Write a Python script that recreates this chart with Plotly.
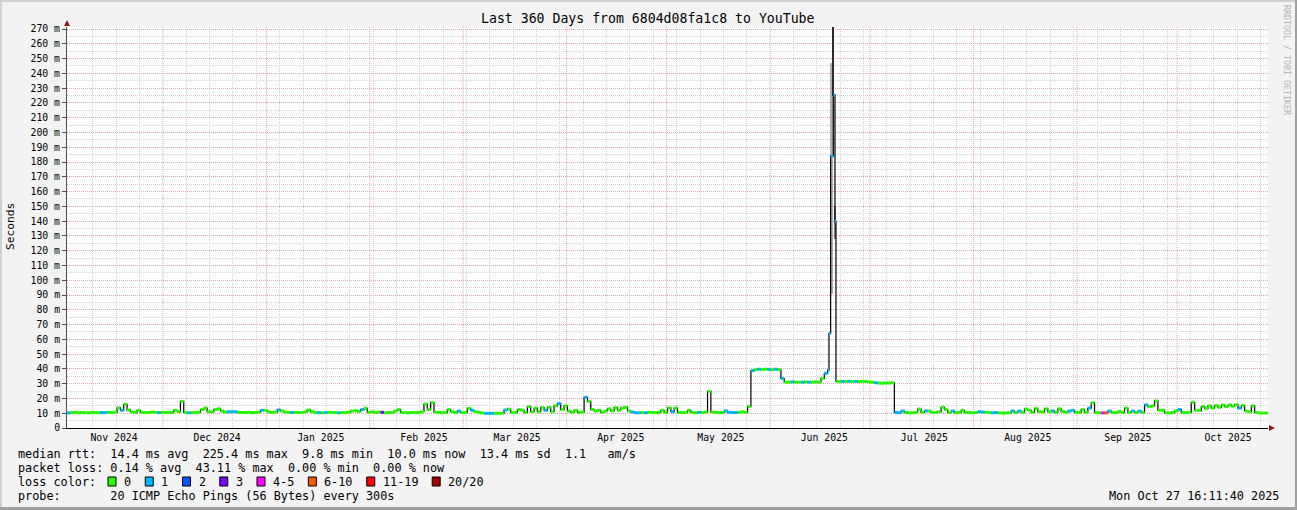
import plotly.graph_objects as go
import pandas as pd

# ---------------- data ----------------
START = pd.Timestamp("2024-11-02 06:00")
N_DAYS = 360

# daily median rtt in ms (None = replaced by the finer spike samples below)
median_ms = [
    10.2, 10.4, 10.6, 10.3, 10.5, 10.4, 10.2, 10.6, 10.4, 10.3,
    10.5, 10.4, 10.6, 10.5, 10.8, 13.6, 12.0, 16.0, 12.2, 11.0,
    10.5, 12.0, 10.6, 10.4, 10.5, 10.8, 10.6, 10.4, 10.6, 10.5,
    10.6, 10.4, 12.0, 11.0, 18.0, 10.5, 10.3, 10.4, 10.5, 10.6,
    12.5, 13.5, 11.0, 10.8, 12.5, 13.0, 11.5, 10.8, 11.0, 11.0,
    11.0, 10.6, 10.5, 10.4, 10.6, 10.3, 10.5, 10.8, 12.0, 12.0,
    11.0, 10.6, 10.8, 12.2, 11.5, 10.8, 10.5, 10.5, 10.6, 10.4,
    10.5, 11.0, 12.2, 11.0, 10.5, 10.4, 10.3, 10.4, 10.6, 10.5,
    10.4, 10.3, 10.5, 10.4, 10.6, 11.5, 11.8, 11.2, 12.5, 13.3,
    10.5, 11.0, 10.4, 10.8, 10.6, 10.3, 10.5, 10.4, 11.5, 12.5,
    10.5, 10.4, 10.3, 10.5, 10.4, 10.5, 11.0, 16.2, 12.5, 17.2,
    10.8, 10.5, 10.4, 10.5, 12.5, 11.0, 10.5, 11.5, 10.5, 10.6,
    13.3, 12.0, 11.0, 10.6, 10.2, 9.9, 9.9, 9.9, 9.9, 9.9,
    10.0, 12.2, 12.8, 10.5, 10.6, 12.5, 12.0, 10.6, 14.5, 11.0,
    13.5, 11.0, 13.8, 12.0, 14.0, 11.0, 15.0, 16.5, 12.5, 15.0,
    11.5, 10.6, 12.0, 10.5, 10.8, 20.8, 18.0, 12.5, 11.5, 12.0,
    10.6, 11.5, 13.0, 11.5, 13.8, 12.0, 13.5, 14.0, 11.5, 10.8,
    10.4, 10.3, 10.4, 10.3, 10.6, 10.5, 10.4, 10.5, 12.0, 10.6,
    13.6, 11.0, 13.5, 10.5, 10.4, 10.6, 12.0, 10.5, 10.3, 10.6,
    10.5, 10.8, 24.8, 10.8, 10.6, 10.4, 10.5, 11.5, 10.6, 10.5,
    10.4, 10.6, 11.0, 10.5, 14.5, 38.8, 39.5, 39.8, 39.6, 39.8,
    39.6, 39.5, 39.8, 39.4, 33.5, 31.0, 31.0, 31.2, 31.0, 31.0,
    31.0, 31.2, 31.0, 31.0, 31.2, 31.0, 33.6, 37.0, 39.2, None,
    None, 31.5, 31.5, 31.5, 31.6, 31.5, 31.5, 31.4, 31.5, 31.5,
    31.2, 31.0, 30.6, 30.4, 30.3, 30.5, 30.4, 30.6, 10.5, 10.4,
    11.5, 10.5, 10.3, 10.4, 10.6, 12.8, 10.5, 11.5, 11.5, 10.5,
    10.6, 11.0, 14.0, 12.5, 10.5, 11.5, 10.4, 10.6, 12.0, 10.5,
    10.4, 10.3, 10.5, 11.0, 10.8, 10.6, 10.5, 10.3, 10.5, 10.2,
    10.1, 10.2, 10.3, 11.5, 10.5, 11.5, 10.6, 12.8, 12.0, 10.6,
    13.2, 11.0, 10.8, 13.0, 11.0, 11.5, 10.6, 13.0, 11.2, 10.6,
    11.5, 12.0, 10.6, 10.5, 12.5, 10.6, 13.5, 17.0, 10.5, 10.3,
    10.2, 10.2, 11.5, 10.5, 10.4, 11.2, 10.5, 13.5, 10.5, 11.5,
    10.5, 11.5, 10.5, 15.6, 14.5, 15.0, 18.3, 12.0, 12.0, 10.3,
    10.3, 10.4, 11.5, 12.5, 10.5, 10.4, 10.6, 17.4, 12.0, 11.8,
    14.5, 13.3, 15.0, 13.5, 15.2, 14.0, 15.5, 14.5, 15.6, 14.8,
    15.8, 13.5, 15.2, 11.5, 11.0, 15.0, 10.5, 10.2, 10.1, 10.1,
]

# loss bucket index per day: 0="0", 1="1", 2="2", 3="3", 4="4-5", 5="6-10", 6="11-19", 7="20/20"
loss_idx = [
    1, 0, 0, 0, 0, 0, 0, 0, 0, 0,
    1, 1, 0, 0, 0, 0, 1, 0, 0, 0,
    0, 0, 0, 0, 0, 0, 0, 1, 0, 0,
    0, 0, 0, 0, 0, 0, 1, 0, 0, 0,
    0, 0, 0, 0, 0, 0, 0, 0, 1, 1,
    1, 0, 0, 0, 0, 0, 0, 0, 1, 0,
    0, 0, 0, 1, 0, 0, 0, 1, 0, 0,
    0, 0, 0, 0, 0, 1, 0, 1, 0, 0,
    0, 1, 0, 0, 0, 0, 0, 0, 1, 0,
    0, 0, 0, 0, 3, 0, 0, 0, 0, 0,
    0, 0, 0, 0, 0, 0, 0, 0, 0, 0,
    0, 0, 0, 0, 0, 0, 0, 1, 0, 0,
    0, 1, 0, 0, 0, 1, 1, 1, 0, 0,
    0, 1, 0, 0, 0, 0, 0, 0, 0, 0,
    0, 0, 0, 1, 0, 0, 0, 1, 0, 0,
    0, 0, 0, 0, 0, 1, 0, 0, 0, 0,
    0, 0, 0, 0, 0, 0, 0, 0, 0, 1,
    1, 1, 0, 1, 0, 0, 0, 0, 0, 0,
    0, 1, 0, 0, 0, 0, 0, 0, 0, 1,
    0, 0, 0, 0, 0, 0, 0, 1, 1, 1,
    1, 0, 0, 0, 0, 1, 0, 1, 0, 0,
    1, 0, 1, 0, 1, 0, 0, 1, 0, 0,
    1, 0, 1, 0, 0, 0, 0, 1, 1, 0,
    0, 0, 1, 0, 1, 0, 1, 0, 0, 0,
    0, 0, 1, 0, 0, 0, 0, 0, 1, 1,
    1, 0, 0, 0, 0, 0, 0, 1, 0, 0,
    0, 0, 0, 0, 0, 1, 0, 0, 0, 0,
    0, 0, 0, 1, 1, 0, 0, 1, 1, 0,
    0, 0, 0, 1, 0, 1, 0, 0, 0, 0,
    0, 0, 0, 0, 0, 1, 0, 0, 0, 0,
    1, 1, 0, 0, 0, 0, 1, 0, 0, 0,
    4, 5, 1, 0, 0, 0, 0, 0, 0, 1,
    0, 1, 0, 1, 0, 0, 0, 0, 0, 0,
    0, 0, 0, 1, 0, 0, 0, 0, 0, 0,
    0, 0, 0, 0, 0, 0, 0, 0, 0, 0,
    0, 1, 0, 0, 0, 0, 0, 0, 0, 0,
]

# finer samples around the early-June spike (day offsets from START)
spike_day = [228.4, 228.9, 229.7, 230.2, 230.5]
spike_ms = [64.0, 184.0, 225.4, 140.0, 31.5]
spike_loss = [1, 1, 1, 1, 0]

# "smoke" (spread of the individual pings), day ranges and ms ranges
smoke_day_from = [197.0, 228.7, 229.6, 230.2]
smoke_day_to = [197.8, 229.6, 230.05, 230.5]
smoke_lo_ms = [10.5, 91.0, 225.0, 128.0]
smoke_hi_ms = [13.0, 247.0, 275.0, 150.0]
smoke_density = [1, 2, 9, 5]

loss_labels = ["0", "1", "2", "3", "4-5", "6-10", "11-19", "20/20"]
y_ticks_ms = list(range(0, 271, 10))
x_label_dates = ["2024-11-16 08:00", "2024-12-17 06:00", "2025-01-17 08:00", "2025-02-17 06:00",
                 "2025-03-17 04:00", "2025-04-17 06:00", "2025-05-17 06:00", "2025-06-17 06:00",
                 "2025-07-17 06:00", "2025-08-17 06:00", "2025-09-16 06:00", "2025-10-16 06:00"]
x_label_text = ["Nov 2024", "Dec 2024", "Jan 2025", "Feb 2025", "Mar 2025", "Apr 2025",
                "May 2025", "Jun 2025", "Jul 2025", "Aug 2025", "Sep 2025", "Oct 2025"]

stats_rtt = "median rtt:  14.4 ms avg  225.4 ms max  9.8 ms min  10.0 ms now  13.4 ms sd  1.1   am/s"
stats_loss = "packet loss: 0.14 % avg  43.11 % max  0.00 % min  0.00 % now"
probe_text = "probe:       20 ICMP Echo Pings (56 Bytes) every 300s"
stamp_text = "Mon Oct 27 16:11:40 2025"
title_text = "Last 360 Days from 6804d08fa1c8 to YouTube"

# ---------------- styles ----------------
LOSS_COLORS = ["#26FF00", "#00B8FF", "#0059FF", "#7E00FF", "#FF00FF", "#FF5500", "#FF0000", "#A10000"]
MONO = "DejaVu Sans Mono"
LEG_SIZE = 11.8
W, H = 1297, 510
L, R, T, B = 67, 1268, 27, 428
PW, PH = R - L, B - T
END = START + pd.Timedelta(days=N_DAYS)
Y_TOP = 270 * (B - T) / (B - 29)


def px(x):
    return (x - L) / PW


def py(y):
    return (B - y) / PH


def t(d):
    return START + pd.Timedelta(days=d)


# merge samples
pts = [(float(d), v, l) for d, (v, l) in enumerate(zip(median_ms, loss_idx)) if v is not None]
pts += list(zip(spike_day, spike_ms, spike_loss))
pts.sort(key=lambda p: p[0])

fig = go.Figure()

# smoke
for d0, d1, lo, hi, dens in zip(smoke_day_from, smoke_day_to, smoke_lo_ms, smoke_hi_ms, smoke_density):
    g = int(215 - dens * 19)
    fig.add_trace(go.Bar(
        x=[t((d0 + d1) / 2)], y=[hi - lo], base=[lo],
        width=[(d1 - d0) * 86400000], marker=dict(color=f"rgb({g},{g},{g})", line=dict(width=0)),
        hoverinfo="skip", showlegend=False))

# black connecting step line
xs = [t(p[0]) for p in pts] + [END]
ys = [p[1] for p in pts] + [pts[-1][1]]
fig.add_trace(go.Scatter(x=xs, y=ys, mode="lines", line=dict(color="#000000", width=1.2, shape="hv"),
                         hoverinfo="skip", showlegend=False))

# colored horizontal segments per loss bucket
for b, col in enumerate(LOSS_COLORS):
    sx, sy = [], []
    for i, (d, v, l) in enumerate(pts):
        if l != b:
            continue
        d_next = pts[i + 1][0] if i + 1 < len(pts) else N_DAYS
        sx += [t(d), t(d_next), None]
        sy += [v, v, None]
    if sx:
        fig.add_trace(go.Scatter(x=sx, y=sy, mode="lines", line=dict(color=col, width=3),
                                 hoverinfo="skip", showlegend=False))

shapes = []
# month-start major vertical grid (red dotted)
for m in pd.date_range("2024-12-01", "2025-10-01", freq="MS"):
    shapes.append(dict(type="line", xref="x", yref="paper", x0=m, x1=m, y0=0, y1=1,
                       line=dict(color="#F2A2A2", width=1, dash="1px,1px"), layer="below"))

# frame of the image
shapes += [
    dict(type="rect", xref="paper", yref="paper", x0=px(0), x1=px(2), y0=py(H), y1=py(0),
         fillcolor="#D0D0D0", line=dict(width=0)),
    dict(type="rect", xref="paper", yref="paper", x0=px(0), x1=px(W), y0=py(2), y1=py(0),
         fillcolor="#D0D0D0", line=dict(width=0)),
    dict(type="rect", xref="paper", yref="paper", x0=px(W - 2), x1=px(W), y0=py(H), y1=py(0),
         fillcolor="#A0A0A0", line=dict(width=0)),
    dict(type="rect", xref="paper", yref="paper", x0=px(0), x1=px(W), y0=py(H), y1=py(H - 3),
         fillcolor="#A0A0A0", line=dict(width=0)),
]
# axis arrows
shapes.append(dict(type="path", xref="paper", yref="paper",
                   path=f"M {px(64)} {py(26)} L {px(70)} {py(26)} L {px(67)} {py(20)} Z",
                   fillcolor="#8B1A1A", line=dict(width=0)))
shapes.append(dict(type="path", xref="paper", yref="paper",
                   path=f"M {px(1269)} {py(425)} L {px(1269)} {py(431)} L {px(1275)} {py(428)} Z",
                   fillcolor="#8B1A1A", line=dict(width=0)))

annotations = []


def text(x, y, s, size, anchor="left", color="#000000", angle=0):
    annotations.append(dict(xref="paper", yref="paper", x=px(x), y=py(y), text=s.replace(" ", "\u00a0"),
                            showarrow=False, xanchor=anchor, yanchor="middle", textangle=angle,
                            font=dict(family=MONO, size=size, color=color)))


text(648, 19, title_text, 13.2, anchor="center")
text(10, 227, "Seconds", 11.2, anchor="center", angle=-90)
text(1287, 60, "RRDTOOL / TOBI OETIKER", 8.3, anchor="center", color="#B4B4B4", angle=90)
text(16, 454, stats_rtt, LEG_SIZE)
text(16, 468, stats_loss, LEG_SIZE)
text(16, 482, "loss color:", LEG_SIZE)
text(16, 496, probe_text, LEG_SIZE)
text(1281, 496, stamp_text, LEG_SIZE, anchor="right")

# loss color legend swatches
sq_x = 108.0
for lab, col in zip(loss_labels, LOSS_COLORS):
    shapes.append(dict(type="rect", xref="paper", yref="paper", x0=px(sq_x), x1=px(sq_x + 8),
                       y0=py(486), y1=py(477), fillcolor=col, line=dict(color="#000000", width=1)))
    text(sq_x + 14, 482, lab, LEG_SIZE)
    sq_x += 30.2 + 7.05 * len(lab)

fig.update_layout(
    width=W, height=H,
    margin=dict(l=L, r=W - R, t=T, b=H - B, pad=0),
    paper_bgcolor="#F3F3F3", plot_bgcolor="#FFFFFF",
    barmode="overlay", bargap=0,
    showlegend=False, hovermode=False,
    shapes=shapes, annotations=annotations,
    xaxis=dict(
        type="date", range=[START, END], showgrid=False, zeroline=False,
        tickmode="array", tickvals=x_label_dates, ticktext=x_label_text, ticks="",
        tickfont=dict(family=MONO, size=9.8, color="#000000"),
        showline=True, linecolor="#000000", linewidth=1.3,
        minor=dict(tickmode="array",
                   tickvals=list(pd.date_range("2024-11-10", END, freq="7D")),
                   showgrid=True, gridcolor="#D2D2D2", griddash="1px,1px", gridwidth=1, ticks=""),
    ),
    yaxis=dict(
        range=[0, Y_TOP], zeroline=False,
        tickmode="array", tickvals=y_ticks_ms,
        ticktext=[("0" if v == 0 else f"{v} m") for v in y_ticks_ms],
        tickfont=dict(family=MONO, size=9.8, color="#000000"),
        ticks="outside", ticklen=4, tickcolor="#505050",
        showgrid=True, gridcolor="#F2A2A2", griddash="1px,1px", gridwidth=1,
        showline=True, linecolor="#505050", linewidth=1,
        minor=dict(tickmode="array", tickvals=list(range(5, 271, 10)),
                   showgrid=True, gridcolor="#D2D2D2", griddash="1px,1px", gridwidth=1, ticks=""),
    ),
)

fig.write_html("out.html", config={"displayModeBar": False},
               post_script="document.body.style.margin='0px';document.body.style.overflow='hidden';")
